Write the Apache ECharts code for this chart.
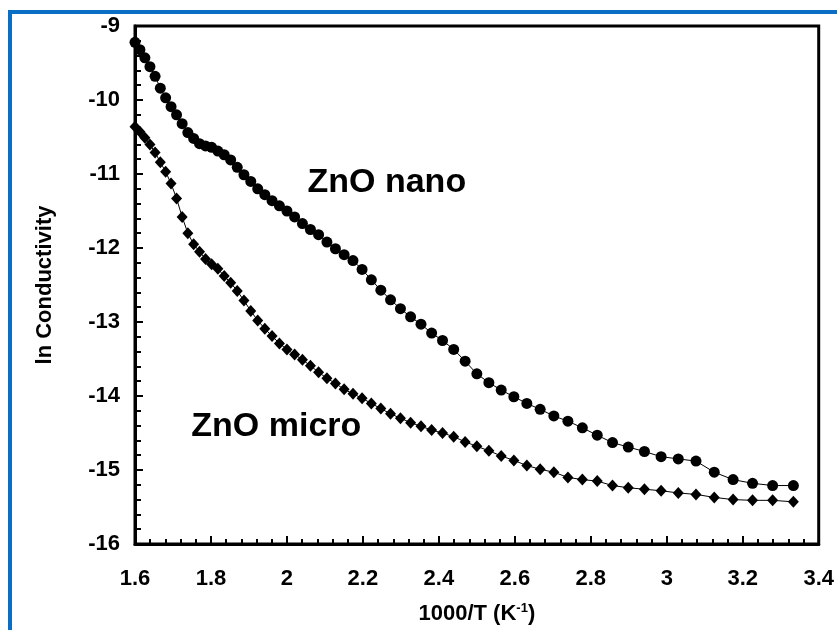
<!DOCTYPE html>
<html>
<head>
<meta charset="utf-8">
<script src="https://cdn.jsdelivr.net/npm/echarts@6/dist/echarts.min.js"></script>
<style>
  html, body { margin: 0; padding: 0; background: #fff; }
  #main { width: 837px; height: 630px; }
</style>
</head>
<body>
<div id="main"></div>
<script>
var myChart = echarts.init(document.getElementById('main'));

// measurement temperatures (K), x axis is 1000/T
var temps = [625, 620, 615, 610, 605, 600, 595, 590, 585, 580, 575, 570, 565, 560, 555,
  550, 545, 540, 535, 530, 525, 520, 515, 510, 505, 500, 495, 490, 485, 480, 475, 470,
  465, 460, 455, 450, 445, 440, 435, 430, 425, 420, 415, 410, 405, 400, 395, 390, 385,
  380, 375, 370, 365, 360, 355, 350, 345, 340, 335, 330, 325, 320, 315, 310, 305, 300];

// ln conductivity, same order as temps
var nanoLn = [-9.22, -9.32, -9.43, -9.55, -9.68, -9.84, -9.97, -10.09, -10.20, -10.32,
  -10.44, -10.52, -10.59, -10.62, -10.64, -10.69, -10.74, -10.81, -10.91, -11.01,
  -11.10, -11.20, -11.28, -11.36, -11.43, -11.50, -11.58, -11.67, -11.75, -11.82,
  -11.92, -12.01, -12.09, -12.17, -12.29, -12.43, -12.57, -12.70, -12.82, -12.93,
  -13.03, -13.15, -13.25, -13.37, -13.53, -13.70, -13.82, -13.92, -14.01, -14.10,
  -14.18, -14.27, -14.34, -14.43, -14.53, -14.63, -14.69, -14.75, -14.82, -14.85,
  -14.88, -15.03, -15.13, -15.18, -15.21, -15.21];

var microLn = [-10.36, -10.43, -10.51, -10.60, -10.71, -10.84, -10.97, -11.13, -11.33,
  -11.58, -11.80, -11.95, -12.05, -12.15, -12.22, -12.28, -12.38, -12.47, -12.58,
  -12.71, -12.85, -12.98, -13.09, -13.19, -13.29, -13.37, -13.44, -13.51, -13.59,
  -13.68, -13.76, -13.83, -13.91, -13.97, -14.03, -14.10, -14.17, -14.24, -14.30,
  -14.36, -14.41, -14.46, -14.50, -14.55, -14.62, -14.68, -14.74, -14.81, -14.87,
  -14.94, -14.99, -15.03, -15.10, -15.13, -15.15, -15.21, -15.24, -15.26, -15.28,
  -15.31, -15.33, -15.37, -15.40, -15.41, -15.41, -15.43];

// annotation text and where it sits, in data units
var notes = [
  { text: 'ZnO nano', at: [2.263, -11.12] },
  { text: 'ZnO micro', at: [1.972, -14.41] }
];

var font = '"Liberation Sans", Arial, Helvetica, sans-serif';

function pairs(ys) {
  var res = [];
  for (var i = 0; i < temps.length; i++) {
    res.push([1000 / temps[i], ys[i]]);
  }
  return res;
}

option = {
  backgroundColor: '#fff',
  animation: false,
  grid: {
    left: 135, top: 26, right: 15, bottom: 84,
    show: true, borderColor: '#000', borderWidth: 3
  },
  xAxis: {
    type: 'value',
    min: 1.6, max: 3.4, interval: 0.2,
    name: '1000/T (K{sup|-1})',
    nameLocation: 'middle',
    nameGap: 58,
    nameTextStyle: {
      color: '#000', fontFamily: font, fontWeight: 'bold', fontSize: 22,
      rich: { sup: { fontSize: 13, fontWeight: 'bold', fontFamily: font, color: '#000', padding: [0, 0, 11, 0] } }
    },
    axisLine: { lineStyle: { color: '#000', width: 3 } },
    axisTick: { inside: true, length: 8, lineStyle: { color: '#000', width: 2 } },
    minorTick: { show: true, splitNumber: 5, length: 5, lineStyle: { color: '#000', width: 2 } },
    axisLabel: { color: '#000', fontFamily: font, fontWeight: 'bold', fontSize: 22, margin: 24 },
    splitLine: { show: false }
  },
  yAxis: {
    type: 'value',
    min: -16, max: -9, interval: 1,
    name: 'ln Conductivity',
    nameLocation: 'middle',
    nameRotate: 90,
    nameGap: 79,
    nameTextStyle: { color: '#000', fontFamily: font, fontWeight: 'bold', fontSize: 22 },
    axisLine: { lineStyle: { color: '#000', width: 3 } },
    axisTick: { inside: true, length: 8, lineStyle: { color: '#000', width: 2 } },
    minorTick: { show: true, splitNumber: 5, length: 6, lineStyle: { color: '#000', width: 2 } },
    axisLabel: { color: '#000', fontFamily: font, fontWeight: 'bold', fontSize: 22, margin: 15 },
    splitLine: { show: false }
  },
  series: [{
    name: 'ZnO nano',
    type: 'line',
    data: pairs(nanoLn),
    symbol: 'circle',
    symbolSize: 11,
    lineStyle: { color: '#000', width: 1 },
    itemStyle: { color: '#000' }
  }, {
    name: 'ZnO micro',
    type: 'line',
    data: pairs(microLn),
    symbol: 'diamond',
    symbolSize: [11, 12],
    lineStyle: { color: '#000', width: 1 },
    itemStyle: { color: '#000' }
  }]
};

myChart.setOption(option);

var graphics = [
  // blue frame round the figure (left and top edges only are visible)
  { type: 'rect', shape: { x: 8, y: 10, width: 4, height: 620 }, style: { fill: '#0a6fc4' } },
  { type: 'rect', shape: { x: 8, y: 10, width: 829, height: 4 }, style: { fill: '#0a6fc4' } }
];
notes.forEach(function (n) {
  var p = myChart.convertToPixel({ gridIndex: 0 }, n.at);
  graphics.push({
    type: 'text', x: p[0], y: p[1],
    style: {
      text: n.text, fill: '#000', font: 'bold 34px ' + font,
      textAlign: 'center', textVerticalAlign: 'middle'
    }
  });
});
myChart.setOption({ graphic: graphics });
</script>
</body>
</html>
